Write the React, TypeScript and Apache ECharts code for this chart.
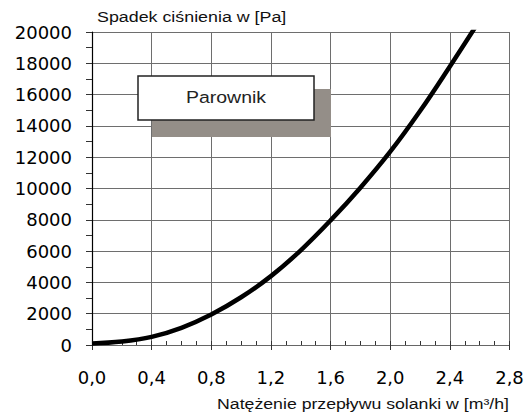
import React, { useEffect, useRef } from "react";
import * as echarts from "echarts";

const flowValues = [0, 0.2, 0.4, 0.6, 0.8, 1.0, 1.2, 1.4, 1.6, 1.8, 2.0, 2.2, 2.4, 2.6];
const pressureValues = [100, 220, 520, 1100, 1950, 3050, 4400, 6050, 7960, 10050, 12350, 14950, 17800, 20750];
const yTitle = "Spadek ciśnienia w [Pa]";
const xTitle = "Natężenie przepływu solanki w [m³/h]";
const boxLabel = "Parownik";

const FONT = "'Liberation Sans', Arial, sans-serif";
const TICK_FONT = "'DejaVu Sans', sans-serif";

export default function App() {
  const ref = useRef<HTMLDivElement>(null);
  useEffect(() => {
    if (!ref.current) return;
    const chart = echarts.init(ref.current, null, { renderer: "svg" });
    const data = flowValues.map((x, i) => [x, pressureValues[i]]);
    chart.setOption({
      animation: false,
      backgroundColor: "#ffffff",
      grid: { left: 92, right: 18.5, top: 32, bottom: 71, containLabel: false },
      xAxis: [
        {
          type: "value",
          min: 0,
          max: 2.8,
          interval: 0.4,
          axisLine: { show: true, lineStyle: { color: "#666", width: 1 } },
          axisTick: { show: true, length: 5, lineStyle: { color: "#333" } },
          axisLabel: {
            margin: 23,
            fontSize: 18,
            fontFamily: TICK_FONT,
            color: "#000",
            formatter: (v: number) => v.toFixed(1).replace(".", ","),
          },
          splitLine: { show: true, lineStyle: { color: "#6e6e6e", width: 1 } },
        },
        {
          type: "value",
          position: "bottom",
          min: 0,
          max: 2.8,
          interval: 0.1,
          axisLine: { show: false },
          axisTick: { show: true, inside: true, length: 4, lineStyle: { color: "#333" } },
          axisLabel: { show: false },
          splitLine: { show: false },
        },
      ],
      yAxis: {
        type: "value",
        min: 0,
        max: 20000,
        interval: 2000,
        axisLine: { show: true, lineStyle: { color: "#000", width: 1.2 } },
        axisTick: { show: true, length: 6, lineStyle: { color: "#333" } },
        minorTick: { show: true, splitNumber: 2, length: 6, lineStyle: { color: "#333" } },
        axisLabel: {
          margin: 20,
          fontSize: 18,
          fontFamily: TICK_FONT,
          color: "#000",
          formatter: (v: number) => String(v),
        },
        splitLine: { show: true, lineStyle: { color: "#6e6e6e", width: 1 } },
      },
      series: [
        {
          type: "line",
          xAxisIndex: 0,
          data,
          smooth: 0.4,
          symbol: "none",
          clip: true,
          lineStyle: { color: "#000", width: 4.5 },
          z: 5,
        },
      ],
      graphic: [
        {
          type: "text",
          x: 97,
          y: 17,
          scaleX: 1.19,
          style: {
            text: yTitle,
            x: 0,
            y: 0,
            textAlign: "left",
            textVerticalAlign: "middle",
            fontSize: 15,
            fontFamily: FONT,
            fill: "#111",
          },
        },
        {
          type: "text",
          x: 509,
          y: 404,
          scaleX: 1.18,
          style: {
            text: xTitle,
            x: 0,
            y: 0,
            textAlign: "right",
            textVerticalAlign: "middle",
            fontSize: 15,
            fontFamily: FONT,
            fill: "#111",
          },
        },
        {
          type: "rect",
          shape: { x: 152, y: 89, width: 179, height: 48 },
          style: { fill: "#948e88" },
          z: 10,
        },
        {
          type: "rect",
          shape: { x: 138, y: 76, width: 176, height: 44 },
          style: { fill: "#ffffff", stroke: "#222", lineWidth: 1.5 },
          z: 11,
        },
        {
          type: "text",
          x: 226,
          y: 98,
          scaleX: 1.18,
          z: 12,
          style: {
            text: boxLabel,
            x: 0,
            y: 0,
            textAlign: "center",
            textVerticalAlign: "middle",
            fontSize: 16.5,
            fontFamily: FONT,
            fill: "#222",
          },
        },
      ],
    });
    return () => chart.dispose();
  }, []);
  return <div ref={ref} style={{ width: 528, height: 416, position: "absolute", left: 0, top: 0 }} />;
}
